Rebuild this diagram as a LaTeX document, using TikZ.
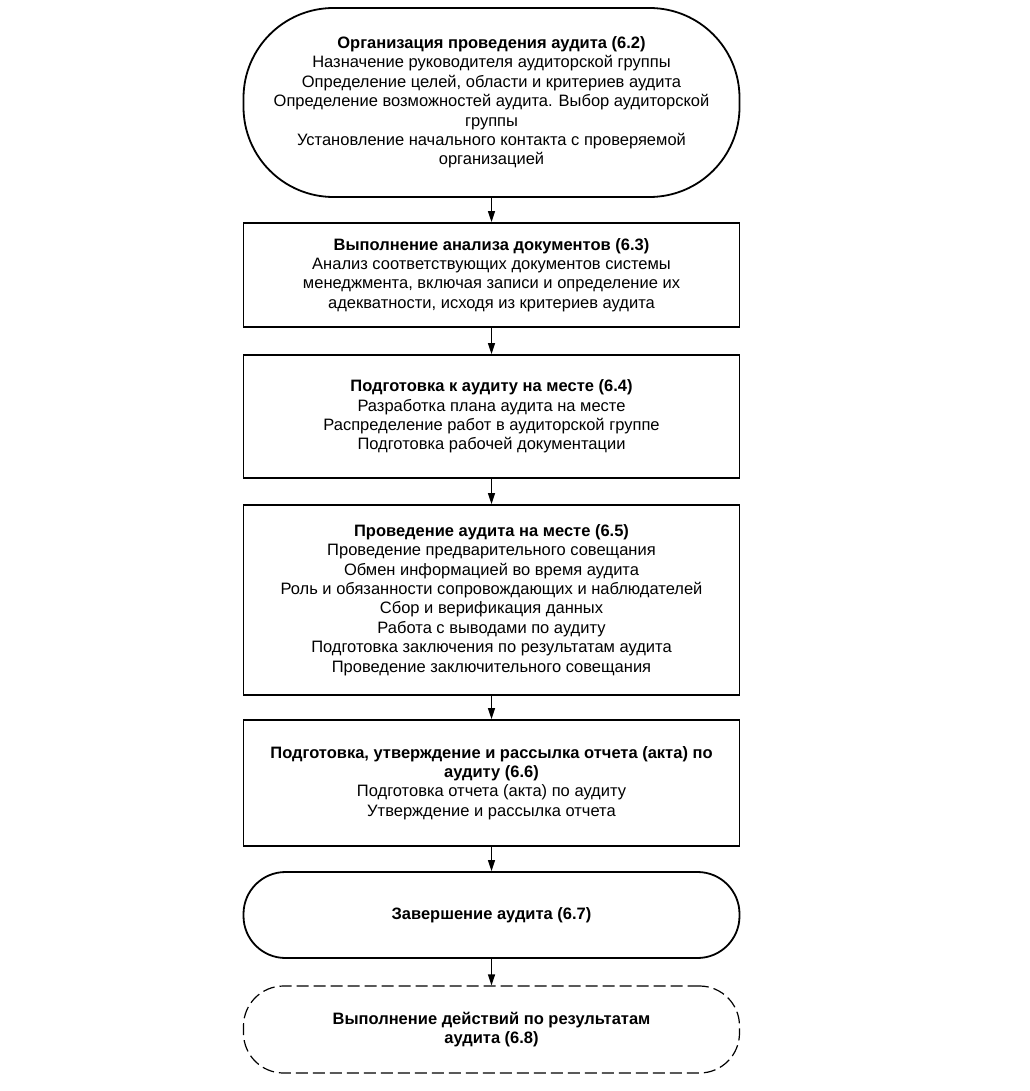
\documentclass[tikz,border=0pt]{standalone}
\usepackage{fontspec}
\setmainfont{Liberation Sans}
\usetikzlibrary{arrows.meta}
\begin{document}
\begin{tikzpicture}[x=1pt,y=-1pt,
  box/.style={draw, line width=1.8pt, align=center,
    font=\fontsize{16.5}{19.4}\selectfont, inner sep=0pt, minimum width=496pt},
  arr/.style={-{Triangle[length=11pt,width=7pt]}, line width=1.4pt}]
\useasboundingbox (0,0) rectangle (1029,1091);
\node[box, rounded corners=90pt, minimum height=189pt] (b1) at (491.5,102.5)
  {\textbf{Организация проведения аудита (6.2)}\\
   Назначение руководителя аудиторской группы\\
   Определение целей, области и критериев аудита\\
   Определение возможностей аудита. Выбор аудиторской\\
   группы\\
   Установление начального контакта с проверяемой\\
   организацией};
\node[box, minimum height=104pt] (b2) at (491.5,275)
  {\textbf{Выполнение анализа документов (6.3)}\\
   Анализ соответствующих документов системы\\
   менеджмента, включая записи и определение их\\
   адекватности, исходя из критериев аудита};
\node[box, minimum height=123pt] (b3) at (491.5,416.5)
  {\textbf{Подготовка к аудиту на месте (6.4)}\\
   Разработка плана аудита на месте\\
   Распределение работ в аудиторской группе\\
   Подготовка рабочей документации};
\node[box, minimum height=190pt] (b4) at (491.5,600)
  {\textbf{Проведение аудита на месте (6.5)}\\
   Проведение предварительного совещания\\
   Обмен информацией во время аудита\\
   Роль и обязанности сопровождающих и наблюдателей\\
   Сбор и верификация данных\\
   Работа с выводами по аудиту\\
   Подготовка заключения по результатам аудита\\
   Проведение заключительного совещания};
\node[box, minimum height=126pt] (b5) at (491.5,783)
  {\textbf{Подготовка, утверждение и рассылка отчета (акта) по}\\
   \textbf{аудиту (6.6)}\\
   Подготовка отчета (акта) по аудиту\\
   Утверждение и рассылка отчета};
\node[box, rounded corners=42pt, minimum height=86pt] (b6) at (491.5,915)
  {\textbf{Завершение аудита (6.7)}};
\node[box, rounded corners=40pt, minimum height=87pt, line width=1.2pt,
      dash pattern=on 12pt off 5pt] (b7) at (491.5,1029.5)
  {\textbf{Выполнение действий по результатам}\\
   \textbf{аудита (6.8)}};
\draw[arr] (b1.south) -- (b2.north);
\draw[arr] (b2.south) -- (b3.north);
\draw[arr] (b3.south) -- (b4.north);
\draw[arr] (b4.south) -- (b5.north);
\draw[arr] (b5.south) -- (b6.north);
\draw[arr] (b6.south) -- (b7.north);
\end{tikzpicture}
\end{document}
